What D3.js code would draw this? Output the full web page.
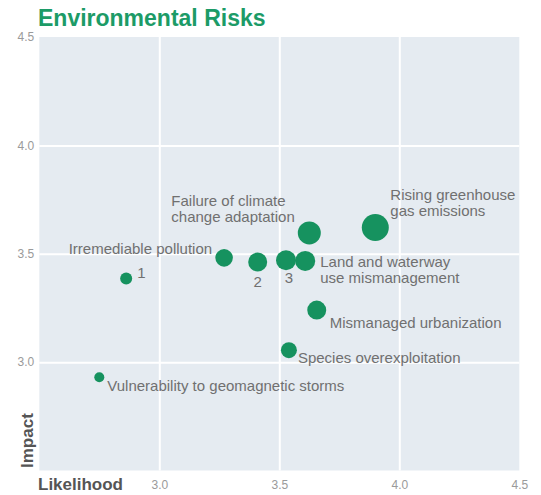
<!DOCTYPE html>
<html>
<head>
<meta charset="utf-8">
<script src="https://cdn.jsdelivr.net/npm/d3@7"></script>
<style>
  html, body { margin: 0; padding: 0; background: #fff; }
  svg { display: block; font-family: "Liberation Sans", Arial, Helvetica, sans-serif; }
</style>
</head>
<body>
<svg id="chart" width="541" height="495"></svg>
<script>
// Environmental risks: likelihood vs impact, bubble area = weight
const riskLabels = [
  "Rising greenhouse\ngas emissions",
  "Failure of climate\nchange adaptation",
  "Irremediable pollution",
  "2",
  "3",
  "Land and waterway\nuse mismanagement",
  "Mismanaged urbanization",
  "Species overexploitation",
  "1",
  "Vulnerability to geomagnetic storms"
];
const likelihood = [3.90, 3.625, 3.27, 3.41, 3.528, 3.608, 3.656, 3.54, 2.862, 2.75];
const impact     = [3.621, 3.596, 3.481, 3.462, 3.47, 3.467, 3.24, 3.055, 3.386, 2.93];
const weight     = [182, 132, 77, 90, 100, 100, 90, 64, 36, 25];

const tickValues = [3.0, 3.5, 4.0, 4.5];
const yTickValues = [3.0, 3.5, 4.0, 4.5];

// label placement relative to each bubble (px)
const labelPlacement = [
  { dx: 15,   dy: -28, anchor: "start" },
  { dx: -138, dy: -27, anchor: "start" },
  { dx: -12,  dy: -4,  anchor: "end" },
  { dx: 0,    dy: 25,  anchor: "middle" },
  { dx: 3,    dy: 23,  anchor: "middle" },
  { dx: 15,   dy: 6,   anchor: "start" },
  { dx: 13,   dy: 18,  anchor: "start" },
  { dx: 9,    dy: 13,  anchor: "start" },
  { dx: 11,   dy: 0,   anchor: "start" },
  { dx: 8,    dy: 14,  anchor: "start" }
];

const green = "#16925f";
const svg = d3.select("#chart");

const x = d3.scaleLinear().domain([2.5, 4.5]).range([39.3, 519.3]);
const y = d3.scaleLinear().domain([2.5, 4.5]).range([470.5, 37]);
const r = d3.scaleSqrt().domain([0, 182]).range([0, 13.5]);

// title
svg.append("text")
  .attr("x", 38).attr("y", 26)
  .attr("font-size", 23).attr("font-weight", "bold")
  .attr("fill", "#1c9b67")
  .text("Environmental Risks");

// plot background
svg.append("rect")
  .attr("x", x(2.5)).attr("y", y(4.5))
  .attr("width", x(4.5) - x(2.5)).attr("height", y(2.5) - y(4.5))
  .attr("fill", "#e5ebf1");

// grid via axes
const gx = svg.append("g")
  .attr("transform", `translate(0,${y(2.5)})`)
  .call(d3.axisBottom(x).tickValues([3.0, 3.5, 4.0]).tickSize(-(y(2.5) - y(4.5))).tickFormat(""));
const gy = svg.append("g")
  .attr("transform", `translate(${x(2.5)},0)`)
  .call(d3.axisLeft(y).tickValues([3.0, 3.5, 4.0]).tickSize(-(x(4.5) - x(2.5))).tickFormat(""));
[gx, gy].forEach(g => {
  g.select(".domain").remove();
  g.selectAll("line").attr("stroke", "#fff").attr("stroke-width", 2);
});

// tick labels
const xAxis = svg.append("g")
  .attr("transform", `translate(0,${y(2.5)})`)
  .call(d3.axisBottom(x).tickValues(tickValues).tickSize(0).tickPadding(0).tickFormat(d3.format(".1f")));
xAxis.select(".domain").remove();
xAxis.selectAll("text")
  .attr("y", 18).attr("dy", null)
  .attr("font-size", 12).attr("fill", "#9a9a9a")
  .attr("font-family", "Liberation Sans, Arial, sans-serif");

const yAxis = svg.append("g")
  .attr("transform", `translate(${x(2.5)},0)`)
  .call(d3.axisLeft(y).tickValues(yTickValues).tickSize(0).tickPadding(5).tickFormat(d3.format(".1f")));
yAxis.select(".domain").remove();
yAxis.selectAll("text")
  .attr("font-size", 12).attr("fill", "#9a9a9a")
  .attr("font-family", "Liberation Sans, Arial, sans-serif");

// axis titles
svg.append("text")
  .attr("x", 38).attr("y", 490)
  .attr("font-size", 17).attr("font-weight", "bold").attr("fill", "#555")
  .text("Likelihood");
svg.append("text")
  .attr("transform", "translate(33,468) rotate(-90)")
  .attr("font-size", 17).attr("font-weight", "bold").attr("fill", "#555")
  .text("Impact");

// bubbles
const data = riskLabels.map((label, i) => ({
  label, lx: likelihood[i], im: impact[i], w: weight[i], place: labelPlacement[i]
}));

svg.append("g").selectAll("circle")
  .data(data)
  .join("circle")
  .attr("cx", d => x(d.lx))
  .attr("cy", d => y(d.im))
  .attr("r", d => r(d.w))
  .attr("fill", green);

// labels
const lab = svg.append("g").selectAll("text")
  .data(data)
  .join("text")
  .attr("x", d => x(d.lx) + d.place.dx)
  .attr("y", d => y(d.im) + d.place.dy)
  .attr("text-anchor", d => d.place.anchor)
  .attr("font-size", 15)
  .attr("fill", "#707070");

lab.selectAll("tspan")
  .data(d => d.label.split("\n").map(t => ({ t, x: x(d.lx) + d.place.dx })))
  .join("tspan")
  .attr("x", t => t.x)
  .attr("dy", (t, i) => i === 0 ? 0 : 16.5)
  .text(t => t.t);
</script>
</body>
</html>
